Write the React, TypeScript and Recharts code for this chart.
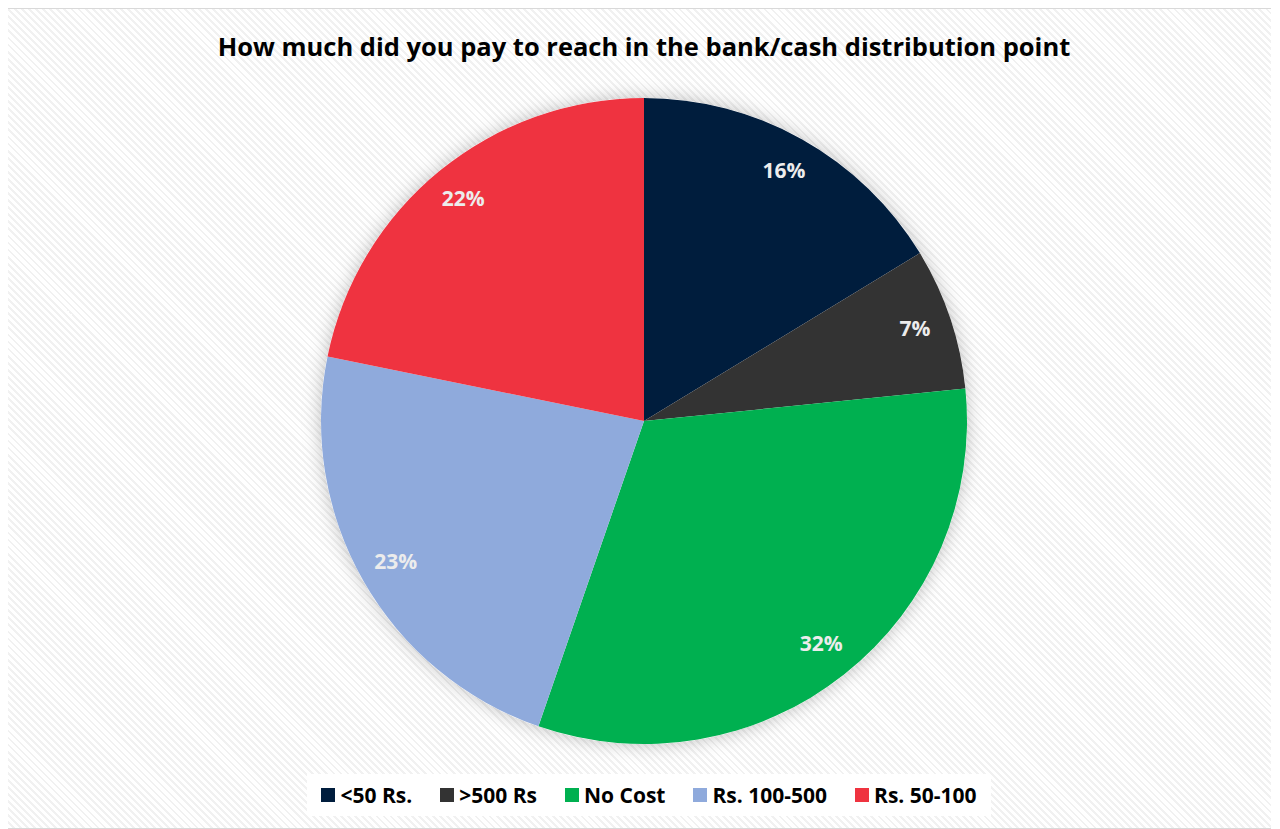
import { PieChart, Pie, Cell, Legend } from "recharts";

const CATEGORIES = ["<50 Rs.", ">500 Rs", "No Cost", "Rs. 100-500", "Rs. 50-100"];
const SHARES = [16.3, 7.1, 31.9, 22.9, 21.8];
const COLORS = ["#001d3d", "#333333", "#00b050", "#8faadc", "#ef3340"];

const pieData = CATEGORIES.map((name, i) => ({ name, value: SHARES[i] }));
const total = SHARES.reduce((a, b) => a + b, 0);

const RAD = Math.PI / 180;

function renderLabel(props: any) {
  const { cx, cy, midAngle, outerRadius, value } = props;
  const r = outerRadius * 0.885;
  const x = cx + r * Math.cos(-midAngle * RAD);
  const y = cy + r * Math.sin(-midAngle * RAD) - 2;
  return (
    <text
      x={x}
      y={y}
      fill="#ececec"
      textAnchor="middle"
      dominantBaseline="central"
      fontFamily="'Open Sans', sans-serif"
      fontWeight={700}
      fontSize={21}
    >
      {`${Math.round((value / total) * 100)}%`}
    </text>
  );
}

function LegendBox() {
  return (
    <div style={{ display: "flex", justifyContent: "center" }}>
      <div
        style={{
          display: "flex",
          gap: 28,
          alignItems: "center",
          background: "#fff",
          padding: "7px 14px",
          marginLeft: 10,
          fontFamily: "'Open Sans', sans-serif",
          fontWeight: 700,
          fontSize: 21,
          color: "#000",
        }}
      >
        {CATEGORIES.map((c, i) => (
          <div key={c} style={{ display: "flex", alignItems: "center", gap: 5 }}>
            <span style={{ width: 14, height: 14, background: COLORS[i], display: "inline-block" }} />
            <span>{c}</span>
          </div>
        ))}
      </div>
    </div>
  );
}

export default function App() {
  return (
    <div
      style={{
        position: "relative",
        width: 1264,
        height: 821,
        boxSizing: "border-box",
        border: "1px solid #d9d9d9",
        borderRight: "none",
        marginLeft: -1,
        background: "repeating-linear-gradient(45deg, #ffffff 0px, #ffffff 3px, #f1f1f1 3px, #f1f1f1 5px)",
      }}
    >
      <div
        style={{
          position: "absolute",
          top: 20,
          left: 0,
          width: 1272,
          textAlign: "center",
          fontFamily: "'Open Sans', sans-serif",
          fontWeight: 700,
          fontSize: 25.5,
          color: "#000",
        }}
      >
        How much did you pay to reach in the bank/cash distribution point
      </div>
      <PieChart width={1272} height={819}>
        <defs>
          <filter id="pieShadow" x="-20%" y="-20%" width="140%" height="140%">
            <feDropShadow dx="0" dy="0" stdDeviation="9" floodColor="#000" floodOpacity="0.25" />
          </filter>
        </defs>
        <Pie
          data={[{ name: "shadow", value: 1 }]}
          dataKey="value"
          cx={631}
          cy={407}
          outerRadius={323}
          startAngle={90}
          endAngle={-270}
          stroke="none"
          legendType="none"
          isAnimationActive={false}
        >
          <Cell fill="#ffffff" filter="url(#pieShadow)" />
        </Pie>
        <Pie
          data={pieData}
          dataKey="value"
          nameKey="name"
          cx={631}
          cy={407}
          outerRadius={323}
          startAngle={90}
          endAngle={-270}
          stroke="none"
          label={renderLabel}
          labelLine={false}
          isAnimationActive={false}
        >
          {pieData.map((d, i) => (
            <Cell key={d.name} fill={COLORS[i]} />
          ))}
        </Pie>
        <Legend verticalAlign="bottom" content={() => <LegendBox />} wrapperStyle={{ bottom: 12 }} />
      </PieChart>
    </div>
  );
}
